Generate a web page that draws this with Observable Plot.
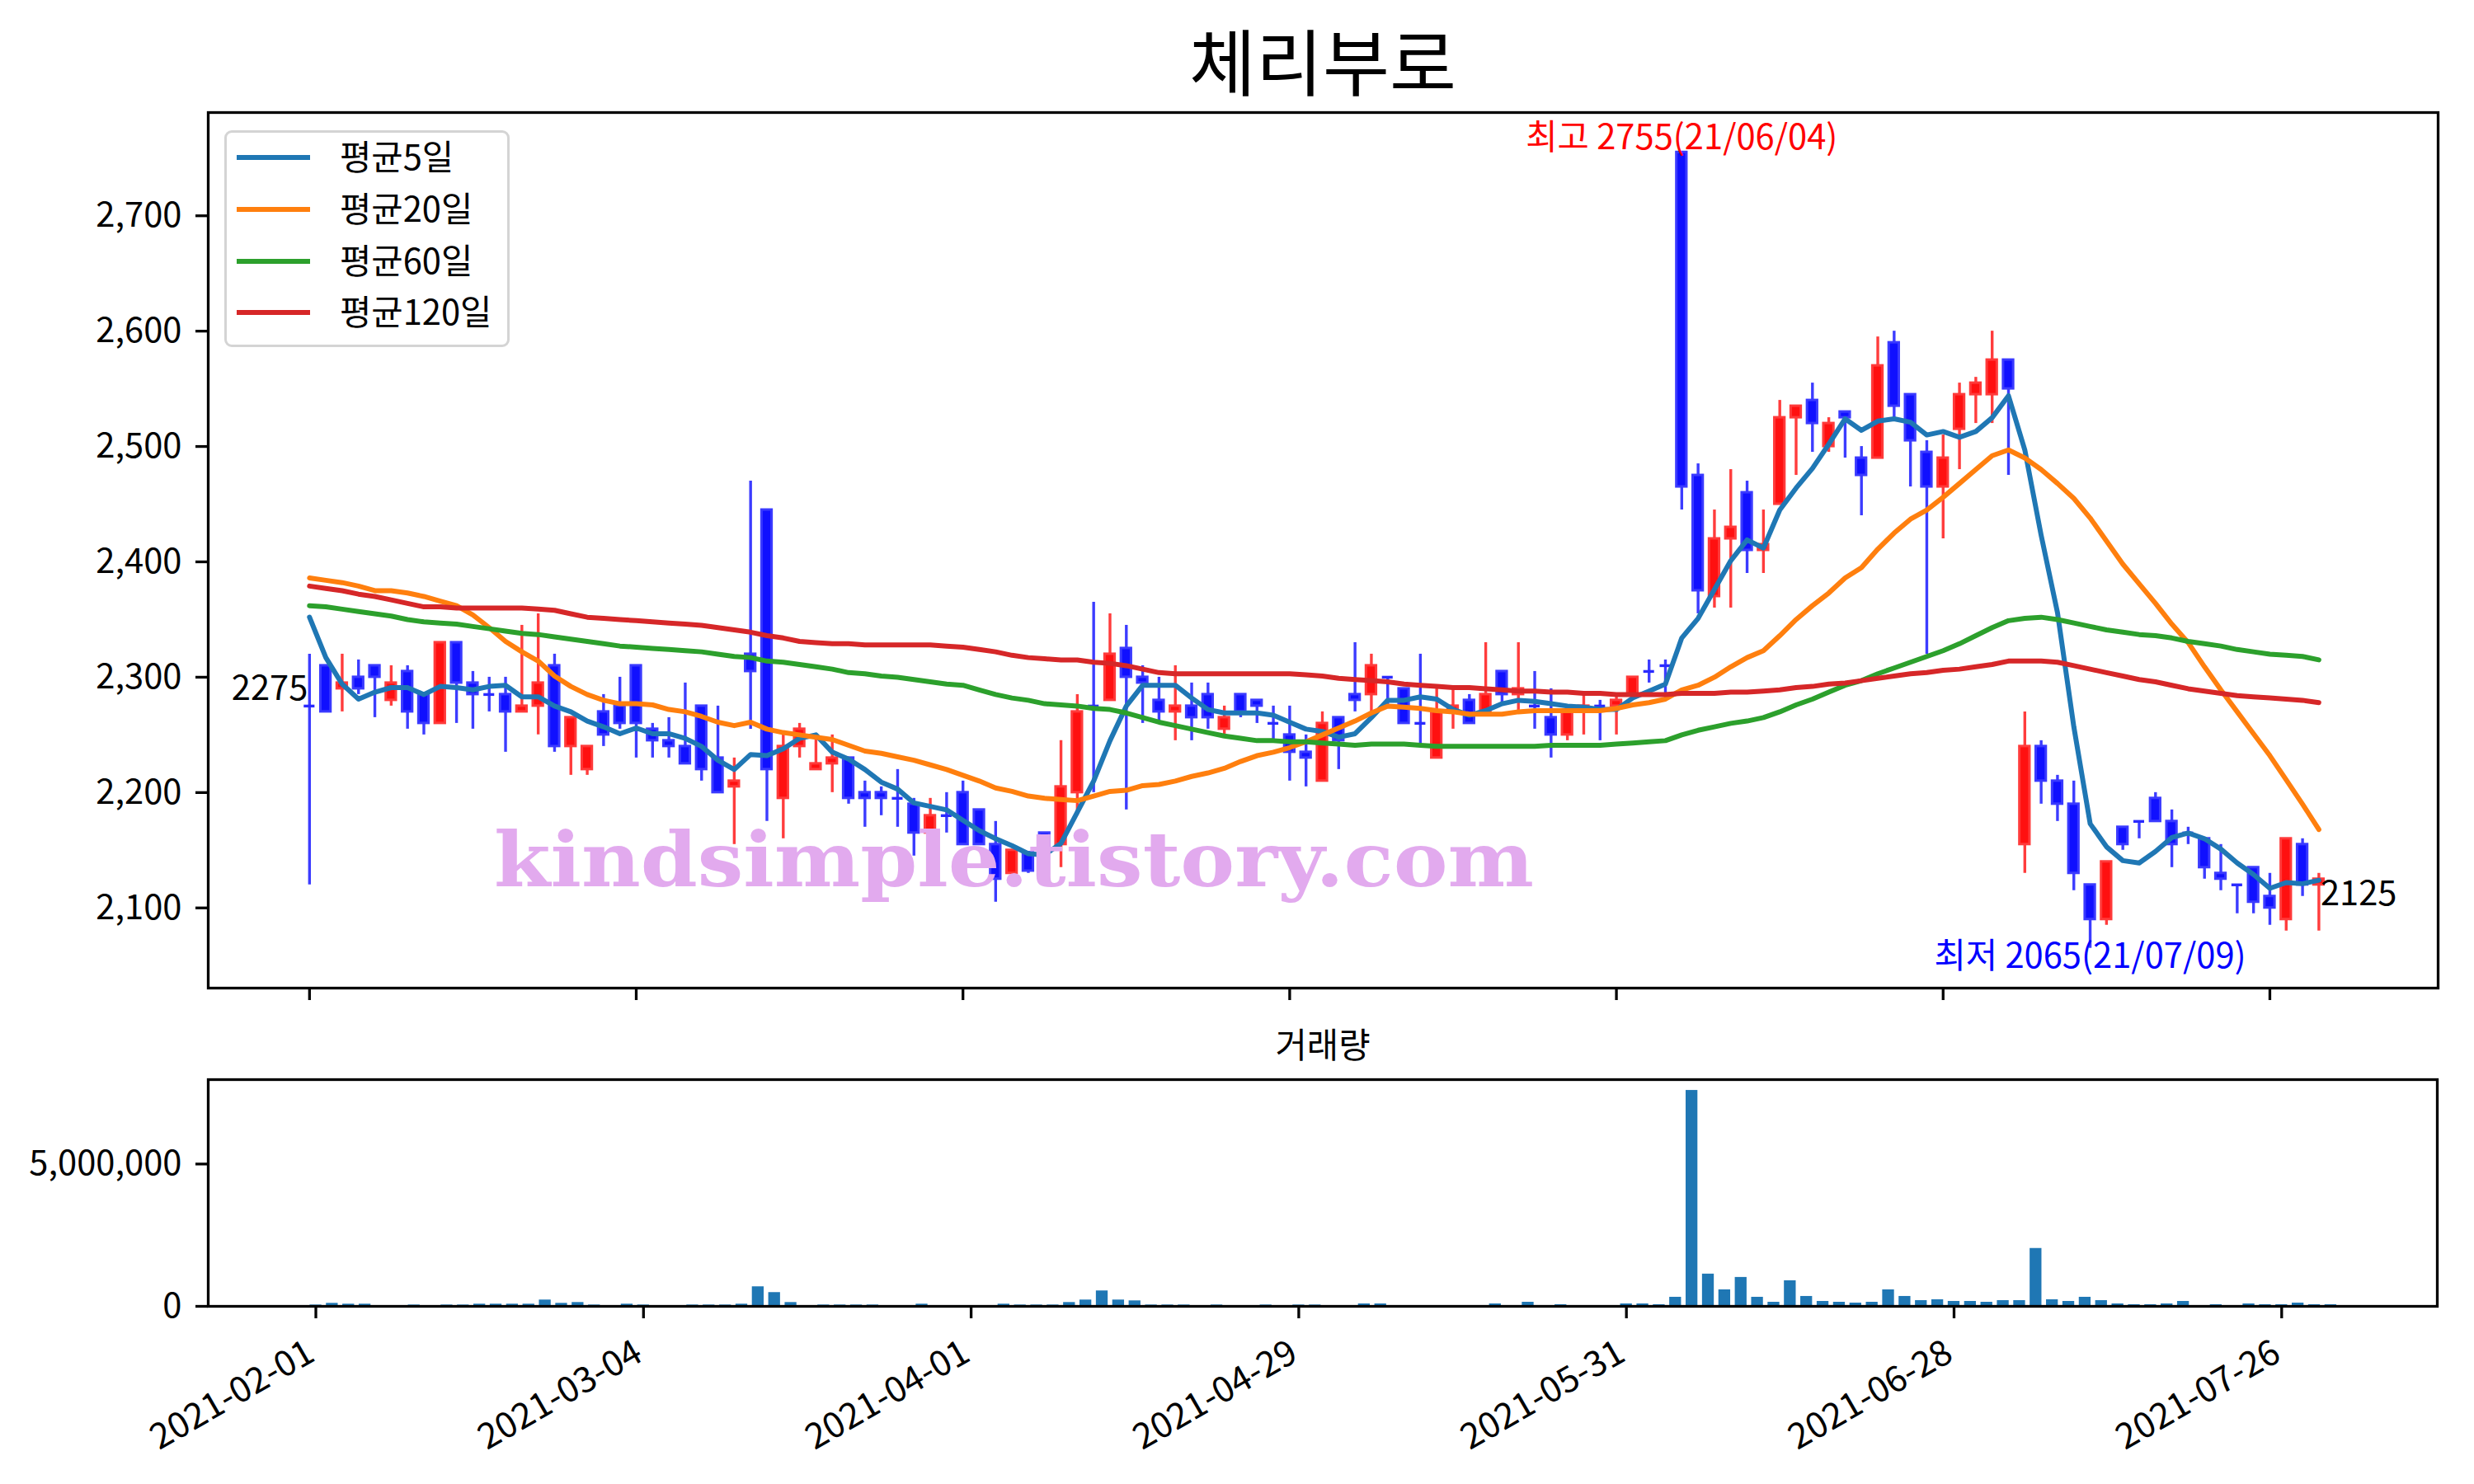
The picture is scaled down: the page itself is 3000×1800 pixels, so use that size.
<!DOCTYPE html>
<html><head><meta charset="utf-8">
<script src="https://cdn.jsdelivr.net/npm/d3@7"></script>
<script src="https://cdn.jsdelivr.net/npm/@observablehq/plot@0.6"></script>
<style>
body{margin:0;background:#fff;}
#wrap{position:relative;width:3000px;height:1800px;background:#fff;font-family:'Noto Sans CJK KR',sans-serif;overflow:hidden}
.abs{position:absolute;white-space:nowrap;line-height:1}
svg{overflow:visible}
</style></head><body><div id="wrap"></div>
<script>
// ---- data (trading-day index = position in arrays, 2021-02-01 .. 2021-07-29) ----
const openP  = [2275,2310,2290,2300,2310,2280,2305,2285,2260,2330,2295,2285,2285,2270,2275,2310,2240,2220,2270,2275,
                2310,2255,2245,2240,2275,2230,2205,2320,2445,2195,2240,2220,2225,2230,2200,2200,2195,2190,2165,2180,
                2200,2185,2155,2130,2148,2165,2155,2200,2275,2280,2325,2300,2280,2270,2275,2285,2255,2285,2280,2260,
                2250,2235,2210,2265,2285,2285,2300,2290,2260,2230,2270,2280,2270,2305,2285,2275,2265,2250,2270,2275,
                2275,2285,2305,2310,2755,2475,2370,2420,2460,2410,2450,2525,2540,2500,2530,2490,2490,2590,2545,2495,
                2465,2515,2545,2545,2575,2155,2240,2210,2190,2120,2090,2170,2175,2195,2175,2165,2160,2130,2120,2135,
                2110,2090,2155,2120];
const highP  = [2320,2310,2320,2315,2310,2310,2310,2285,2330,2330,2305,2300,2300,2345,2355,2320,2265,2240,2285,2300,
                2310,2260,2265,2295,2275,2275,2230,2470,2445,2250,2260,2250,2250,2230,2210,2205,2220,2195,2195,2200,
                2210,2185,2175,2150,2148,2165,2245,2285,2365,2355,2345,2310,2300,2310,2295,2295,2275,2285,2280,2275,
                2275,2250,2270,2265,2330,2320,2300,2290,2320,2290,2290,2285,2330,2305,2330,2305,2290,2270,2285,2280,
                2285,2300,2315,2315,2755,2485,2445,2480,2470,2445,2540,2535,2555,2525,2530,2500,2595,2600,2545,2505,
                2510,2555,2560,2600,2575,2270,2245,2215,2210,2120,2140,2170,2175,2200,2185,2170,2160,2155,2120,2135,
                2130,2160,2160,2130];
const lowP   = [2120,2270,2270,2285,2265,2275,2255,2250,2260,2260,2255,2270,2235,2270,2250,2235,2215,2215,2240,2255,
                2230,2230,2230,2225,2210,2200,2155,2255,2175,2160,2230,2220,2200,2190,2170,2180,2170,2145,2160,2165,
                2155,2155,2105,2130,2130,2150,2135,2180,2200,2280,2185,2260,2260,2245,2245,2255,2250,2265,2260,2245,
                2210,2205,2210,2220,2270,2270,2275,2260,2240,2230,2255,2260,2270,2275,2270,2255,2230,2245,2250,2245,
                2250,2285,2295,2285,2445,2355,2360,2360,2390,2390,2450,2475,2495,2495,2490,2440,2490,2525,2465,2320,
                2420,2480,2520,2520,2475,2130,2190,2175,2115,2065,2085,2150,2160,2175,2135,2155,2125,2115,2095,2095,
                2085,2080,2110,2080];
const closeP = [2275,2270,2295,2290,2300,2295,2270,2260,2330,2295,2285,2285,2270,2275,2295,2240,2265,2240,2250,2260,
                2260,2245,2240,2225,2220,2200,2210,2305,2220,2240,2255,2225,2230,2195,2195,2195,2195,2165,2180,2180,
                2155,2155,2125,2150,2132,2150,2205,2270,2275,2320,2300,2295,2270,2275,2265,2265,2265,2270,2275,2260,
                2235,2230,2260,2245,2280,2310,2300,2260,2260,2270,2275,2260,2285,2285,2290,2275,2250,2270,2275,2275,
                2280,2300,2305,2310,2465,2375,2420,2430,2410,2415,2525,2535,2520,2520,2525,2475,2570,2535,2505,2465,
                2490,2545,2555,2575,2550,2240,2210,2190,2130,2090,2140,2155,2175,2175,2155,2165,2135,2125,2120,2105,
                2100,2160,2120,2125];
const ma5    = [2352,2317,2294,2281,2287,2291,2291,2285,2292,2291,2289,2292,2293,2283,2283,2275,2270,2262,2257,2251,
                2256,2251,2251,2247,2240,2228,2220,2233,2232,2238,2247,2250,2235,2229,2220,2209,2203,2191,2188,2185,
                2176,2167,2160,2154,2147,2146,2156,2183,2210,2245,2275,2293,2293,2293,2282,2272,2269,2269,2269,2267,
                2261,2255,2253,2248,2251,2265,2280,2280,2283,2281,2272,2267,2271,2277,2280,2279,2277,2275,2274,2272,
                2272,2282,2288,2294,2334,2351,2376,2401,2419,2412,2445,2464,2481,2502,2524,2514,2522,2524,2521,2510,
                2513,2508,2513,2525,2544,2497,2423,2356,2257,2173,2153,2141,2139,2149,2161,2165,2160,2151,2139,2129,
                2117,2122,2121,2124];
const ma20   = [2386,2384,2382,2379,2375,2375,2373,2370,2366,2362,2354,2343,2331,2322,2314,2301,2292,2285,2280,2277,
                2277,2276,2272,2270,2266,2261,2258,2261,2255,2252,2250,2248,2246,2241,2236,2234,2231,2228,2224,2220,
                2215,2210,2204,2201,2197,2195,2194,2193,2197,2201,2202,2206,2207,2210,2214,2217,2221,2227,2232,2235,
                2239,2244,2250,2256,2262,2269,2275,2274,2273,2271,2270,2268,2268,2268,2270,2271,2271,2271,2271,2271,
                2273,2276,2278,2281,2289,2293,2300,2309,2317,2323,2336,2350,2362,2373,2386,2395,2411,2425,2437,2445,
                2456,2468,2480,2492,2497,2490,2480,2468,2455,2438,2418,2398,2381,2364,2346,2330,2309,2289,2270,2251,
                2232,2211,2190,2168];
const ma60   = [2362,2361,2359,2357,2355,2353,2350,2348,2347,2346,2344,2342,2340,2338,2337,2335,2333,2331,2329,2327,
                2326,2325,2324,2323,2322,2320,2318,2317,2314,2313,2311,2309,2307,2304,2303,2301,2300,2298,2296,2294,
                2293,2289,2285,2282,2280,2277,2276,2275,2273,2272,2269,2265,2261,2258,2255,2252,2249,2247,2245,2245,
                2244,2244,2243,2242,2241,2242,2242,2242,2241,2240,2240,2240,2240,2240,2240,2240,2241,2241,2241,2241,
                2242,2243,2244,2245,2250,2254,2257,2260,2262,2265,2270,2276,2281,2287,2293,2297,2303,2308,2313,2318,
                2323,2329,2336,2343,2349,2351,2352,2350,2347,2344,2341,2339,2337,2336,2334,2331,2329,2327,2324,2322,
                2320,2319,2318,2315];
const ma120  = [2379,2377,2375,2372,2370,2367,2364,2361,2361,2360,2360,2360,2360,2360,2359,2358,2355,2352,2351,2350,
                2349,2348,2347,2346,2345,2343,2341,2339,2336,2334,2331,2330,2329,2329,2328,2328,2328,2328,2328,2327,
                2326,2324,2322,2319,2317,2316,2315,2315,2313,2312,2310,2307,2304,2303,2303,2303,2303,2303,2303,2303,
                2303,2302,2301,2299,2298,2297,2296,2294,2293,2292,2291,2291,2290,2289,2288,2288,2287,2287,2286,2286,
                2285,2285,2285,2285,2286,2286,2286,2287,2287,2288,2289,2291,2292,2294,2295,2297,2299,2301,2303,2304,
                2306,2307,2309,2311,2314,2314,2314,2313,2310,2307,2304,2301,2298,2296,2293,2290,2288,2286,2284,2283,
                2282,2281,2280,2278];
const volume = [48000,107000,78000,78000,8000,8000,48000,8000,48000,48000,78000,78000,78000,78000,223000,107000,136000,48000,8000,78000,
                48000,8000,8000,48000,48000,48000,78000,688000,485000,136000,8000,48000,48000,48000,48000,8000,8000,78000,8000,8000,
                8000,8000,78000,48000,48000,48000,136000,223000,543000,223000,194000,48000,48000,48000,8000,48000,8000,8000,48000,8000,
                48000,48000,29000,8000,87000,87000,29000,8000,8000,8000,8000,8000,87000,8000,145000,8000,58000,8000,8000,29000,
                87000,87000,58000,320000,7587000,1134000,581000,1017000,320000,145000,901000,349000,174000,145000,116000,145000,581000,349000,203000,233000,
                174000,174000,145000,203000,203000,2035000,233000,174000,320000,203000,87000,58000,58000,87000,174000,29000,58000,29000,87000,58000,
                58000,116000,58000,58000];
const tickIndex  = [0,20,40,60,80,100,120];
const tickLabels = ["2021-02-01","2021-03-04","2021-04-01","2021-04-29","2021-05-31","2021-06-28","2021-07-26"];
const priceTicks = [2100,2200,2300,2400,2500,2600,2700];
const volumeTicks = [0,5000000];
const maNames  = ["평균5일","평균20일","평균60일","평균120일"];
const noteIndex = [84,109,0,123];
const noteValue = [2755,2065,2275,2125];
const noteText  = ["최고 2755(21/06/04)","최저 2065(21/07/09)","2275","2125"];
const titleText = "체리부로";
const volumeTitle = "거래량";
const watermark = "kindsimple.tistory.com";

// ---- build ----
const FONT = "'Noto Sans CJK KR', sans-serif";
const FS = 41.7;
const maColors = ["#1f77b4","#ff7f0e","#2ca02c","#d62728"];
const candles = openP.map((o,i)=>({i,o,h:highP[i],l:lowP[i],c:closeP[i],up:closeP[i]>o}));
const bodies = candles.filter(d=>d.o!==d.c);
const dojis = candles.filter(d=>d.o===d.c);
const notes = noteIndex.map((i,k)=>({i,v:noteValue[k],text:noteText[k]}));
const maSeries = [ma5,ma20,ma60,ma120];
const ticksData = tickIndex.map((i,k)=>({i,label:tickLabels[k]}));

const wrap = document.getElementById("wrap");

const main = Plot.plot({
  width: 3000, height: 1240,
  marginLeft: 252, marginRight: 44, marginTop: 136, marginBottom: 42,
  x: {domain: [-6.2, 130.3], label: null},
  y: {domain: [2030.5, 2789.5], label: null},
  color: {type: "identity"},
  style: {fontFamily: FONT, fontSize: FS+"px", color: "black", background: "transparent", overflow: "visible"},
  marks: [
    Plot.axisY({ticks: priceTicks, tickFormat: d3.format(","), tickSize: 15, tickPadding: 17, strokeWidth: 3.3, fontSize: FS, label: null}),
    Plot.axisX({ticks: tickIndex, tickSize: 15, strokeWidth: 3.3, tickFormat: () => "", label: null}),
    Plot.ruleX(candles, {x: "i", y1: "l", y2: "h", stroke: d => d.up ? "#ff3c3c" : "#3c3cff", strokeWidth: 3.4}),
    Plot.rect(bodies, {x1: d => d.i - 0.31, x2: d => d.i + 0.31, y1: "o", y2: "c",
      fill: d => d.up ? "#ff1010" : "#1010ff", stroke: d => d.up ? "#ff3a3a" : "#3a3aff", strokeWidth: 3}),
    Plot.ruleY(dojis, {y: "o", x1: d => d.i - 0.33, x2: d => d.i + 0.33, stroke: "#2a2aff", strokeWidth: 3.4}),
    ...maSeries.map((s,k) => Plot.line(s, {x: (d,i) => i, y: d => d, stroke: maColors[k], strokeWidth: 6})),
    Plot.text(notes.slice(0,1), {x: "i", y: "v", text: "text", fill: "red", textAnchor: "middle", lineAnchor: "bottom", fontSize: FS, dy: -4}),
    Plot.text(notes.slice(1,2), {x: "i", y: "v", text: "text", fill: "blue", textAnchor: "middle", lineAnchor: "top", fontSize: FS, dy: -6}),
    Plot.text(notes.slice(2,3), {x: "i", y: "v", text: "text", fill: "black", textAnchor: "end", lineAnchor: "bottom", fontSize: FS, dx: -2, dy: -7}),
    Plot.text(notes.slice(3,4), {x: "i", y: "v", text: "text", fill: "black", textAnchor: "start", lineAnchor: "top", fontSize: FS, dx: 2, dy: 2}),
    Plot.frame({stroke: "black", strokeWidth: 3.3})
  ]
});
main.style.position = "absolute"; main.style.left = "0px"; main.style.top = "0px";
wrap.appendChild(main);

const vol = Plot.plot({
  width: 3000, height: 600,
  marginLeft: 252, marginRight: 45, marginTop: 109, marginBottom: 216,
  x: {domain: [-6.57, 129.5], label: null},
  y: {domain: [0, 7966000], label: null},
  style: {fontFamily: FONT, fontSize: FS+"px", color: "black", background: "transparent", overflow: "visible"},
  marks: [
    Plot.rect(volume, {x1: (d,i) => i - 0.36, x2: (d,i) => i + 0.36, y1: 0, y2: d => d, fill: "#1f77b4"}),
    Plot.axisY({ticks: volumeTicks, tickFormat: d3.format(","), tickSize: 15, tickPadding: 17, strokeWidth: 3.3, fontSize: FS, label: null}),
    Plot.axisX({ticks: tickIndex, tickSize: 15, strokeWidth: 3.3, tickFormat: () => "", label: null}),
    Plot.text(ticksData, {x: "i", text: "label", frameAnchor: "bottom", rotate: -30, textAnchor: "end", lineAnchor: "top", dx: -14, dy: 38, fontSize: 43}),
    Plot.frame({stroke: "black", strokeWidth: 3.3})
  ]
});
vol.style.position = "absolute"; vol.style.left = "0px"; vol.style.top = "1200px";
wrap.appendChild(vol);

function addDiv(text, css){ const d = document.createElement("div"); d.className = "abs"; d.textContent = text; Object.assign(d.style, css); wrap.appendChild(d); return d; }
addDiv(titleText, {left: "1104px", width: "1000px", textAlign: "center", top: "27px", fontSize: "88px"});
addDiv(volumeTitle, {left: "1404px", width: "400px", textAlign: "center", top: "1245px", fontSize: FS+"px"});

// legend
const lg = document.createElement("div");
Object.assign(lg.style, {position: "absolute", left: "272px", top: "158px", width: "340px", height: "257px",
  border: "3px solid #d4d4d4", borderRadius: "9px", background: "rgba(255,255,255,0.8)"});
wrap.appendChild(lg);
const legendY = [191, 254, 317, 379];
maNames.forEach((name,k) => {
  const ln = document.createElement("div");
  Object.assign(ln.style, {position: "absolute", left: "287px", top: (legendY[k]-3)+"px", width: "89px", height: "6px", background: maColors[k]});
  wrap.appendChild(ln);
  addDiv(name, {left: "412px", top: (legendY[k]-23)+"px", fontSize: FS+"px"});
});

// watermark
const ns = "http://www.w3.org/2000/svg";
const ws = document.createElementNS(ns, "svg");
ws.setAttribute("width", 3000); ws.setAttribute("height", 1800);
Object.assign(ws.style, {position: "absolute", left: "0px", top: "0px", pointerEvents: "none"});
const wt = document.createElementNS(ns, "text");
wt.setAttribute("x", 599); wt.setAttribute("y", 1075);
wt.setAttribute("textLength", 1261); wt.setAttribute("lengthAdjust", "spacingAndGlyphs");
wt.setAttribute("font-family", "'DejaVu Serif', serif"); wt.setAttribute("font-weight", "bold");
wt.setAttribute("font-size", 92); wt.setAttribute("fill", "#e2aaee");
wt.textContent = watermark;
ws.appendChild(wt);
wrap.appendChild(ws);
</script></body></html>
